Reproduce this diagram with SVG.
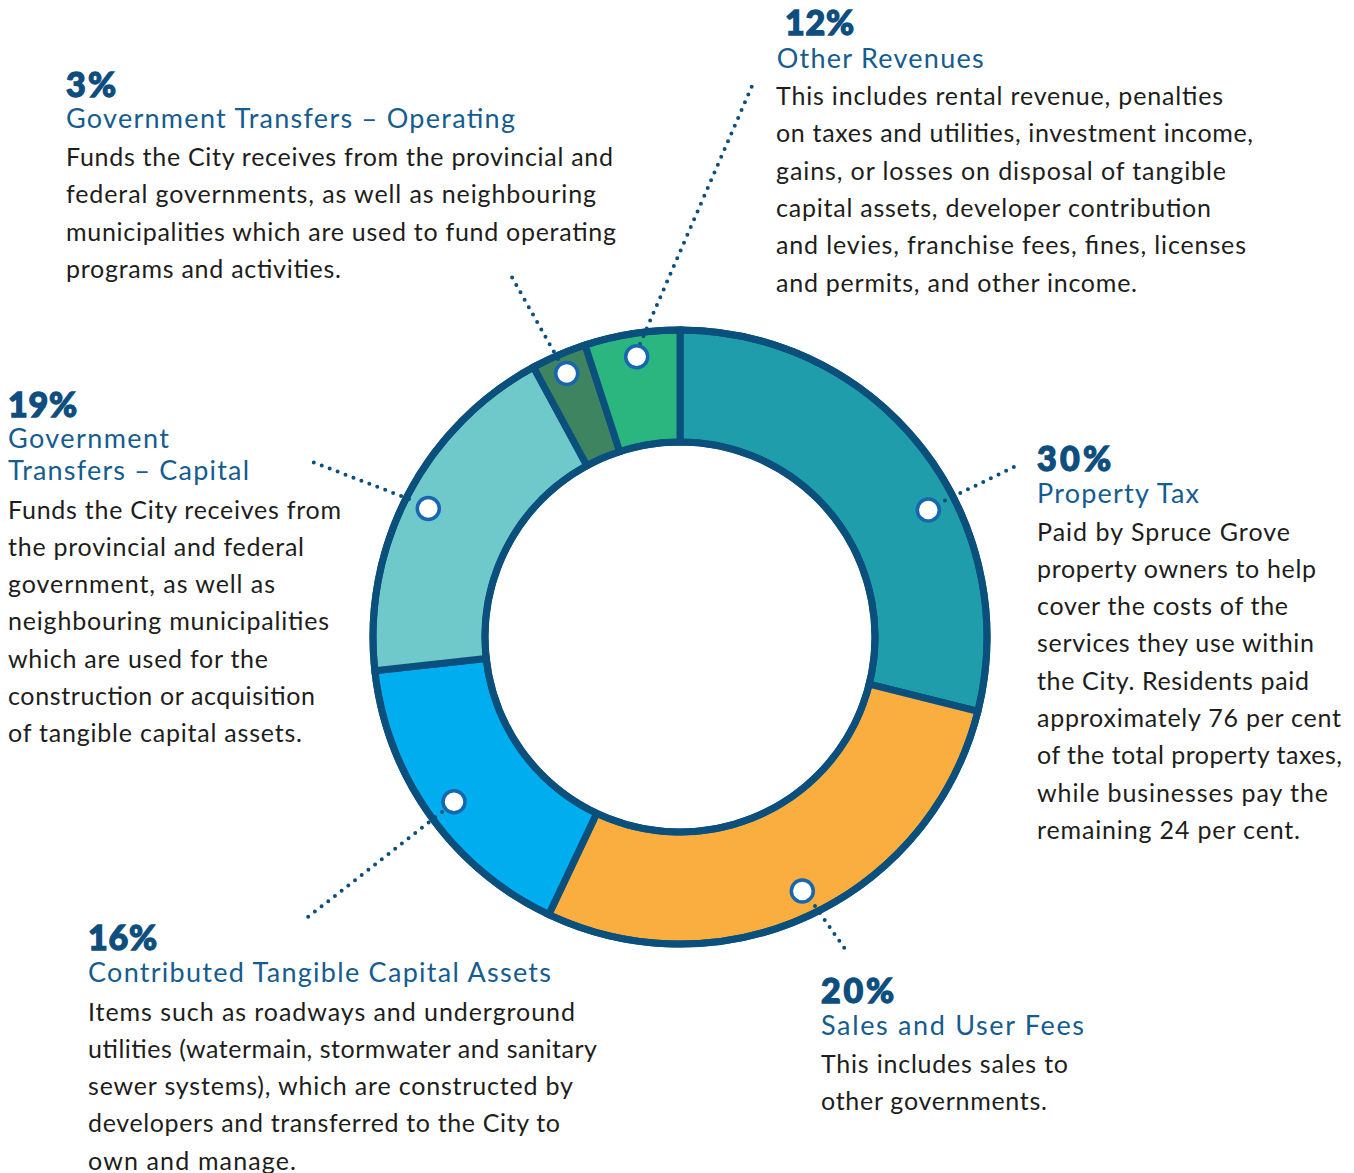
<svg xmlns="http://www.w3.org/2000/svg" width="1354" height="1173" viewBox="0 0 1354 1173">
<style>
.pct{font-family:Lato,"Liberation Sans",sans-serif;font-weight:900;font-size:34px;fill:#0e4e7e;stroke:#0e4e7e;stroke-width:1.3}
.hd{font-family:Lato,"Liberation Sans",sans-serif;font-size:27px;fill:#155c8f}
.bd{font-family:Lato,"Liberation Sans",sans-serif;font-size:25px;fill:#1d1d1b}
.seg{stroke:#0b4f7c;stroke-width:7;stroke-linejoin:miter}
.ring{fill:none;stroke:#0b4f7c;stroke-width:7}
.mk{fill:#fff;stroke:#1766b0;stroke-width:3.5}
.dl{fill:none;stroke:#0b4f7c;stroke-width:4;stroke-linecap:round;stroke-dasharray:0 8.5}
</style>
<rect width="1354" height="1173" fill="#fff"/>
<g id="donut">
<path id="seg-property-tax" class="seg" fill="#1f9dab" d="M680,330 A307,307 0 0 1 977.9,711.3 L869.2,684.2 A195,195 0 0 0 680,442 Z"/>
<path id="seg-sales" class="seg" fill="#fbae40" d="M977.9,711.3 A307,307 0 0 1 548.8,914.6 L596.7,813.3 A195,195 0 0 0 869.2,684.2 Z"/>
<path id="seg-contributed" class="seg" fill="#00adee" d="M548.8,914.6 A307,307 0 0 1 374.8,670.7 L486.2,658.4 A195,195 0 0 0 596.7,813.3 Z"/>
<path id="seg-gov-capital" class="seg" fill="#6fc9cb" d="M374.8,670.7 A307,307 0 0 1 533.5,367.2 L586.9,465.6 A195,195 0 0 0 486.2,658.4 Z"/>
<path id="seg-gov-operating" class="seg" fill="#3f8460" d="M533.5,367.2 A307,307 0 0 1 585.1,345 L619.7,451.5 A195,195 0 0 0 586.9,465.6 Z"/>
<path id="seg-other" class="seg" fill="#2cb67f" d="M585.1,345 A307,307 0 0 1 680,330 L680,442 A195,195 0 0 0 619.7,451.5 Z"/>
<circle class="ring" cx="680" cy="637" r="307"/>
<circle class="ring" cx="680" cy="637" r="195"/>
</g>
<g id="connectors">
<line class="dl" x1="945" y1="500.5" x2="1016" y2="466"/>
<line class="dl" x1="409" y1="499" x2="310" y2="461"/>
<line class="dl" x1="442" y1="812" x2="308" y2="917"/>
<line class="dl" x1="815" y1="906" x2="845" y2="949"/>
<line class="dl" x1="558" y1="359" x2="509" y2="272"/>
<line class="dl" x1="640" y1="344" x2="752" y2="86"/>
</g>
<g id="markers">
<circle class="mk" cx="928.3" cy="510" r="11"/>
<circle class="mk" cx="428.3" cy="508.5" r="11"/>
<circle class="mk" cx="454" cy="801.7" r="11"/>
<circle class="mk" cx="802.3" cy="891" r="11"/>
<circle class="mk" cx="566.7" cy="373.5" r="11"/>
<circle class="mk" cx="636.7" cy="356.7" r="11"/>
</g>
<g id="node-gov-operating">
<text class="pct" x="66" y="96.5" textLength="50">3%</text>
<text class="hd" x="66" y="128.3" textLength="449">Government Transfers – Operating</text>
<text class="bd" x="66" y="166" textLength="547">Funds the City receives from the provincial and</text>
<text class="bd" x="66" y="203.3" textLength="530">federal governments, as well as neighbouring</text>
<text class="bd" x="66" y="240.6" textLength="550">municipalities which are used to fund operating</text>
<text class="bd" x="66" y="278" textLength="275">programs and activities.</text>
</g>
<g id="node-other">
<text class="pct" x="785" y="35" textLength="69">12%</text>
<text class="hd" x="776.7" y="67.7" textLength="207">Other Revenues</text>
<text class="bd" x="776" y="105" textLength="447">This includes rental revenue, penalties</text>
<text class="bd" x="776" y="142.3" textLength="477">on taxes and utilities, investment income,</text>
<text class="bd" x="776" y="179.6" textLength="450">gains, or losses on disposal of tangible</text>
<text class="bd" x="776" y="216.9" textLength="435">capital assets, developer contribution</text>
<text class="bd" x="776" y="254.2" textLength="470">and levies, franchise fees, fines, licenses</text>
<text class="bd" x="776" y="291.5" textLength="361">and permits, and other income.</text>
</g>
<g id="node-gov-capital">
<text class="pct" x="8" y="416.7" textLength="69">19%</text>
<text class="hd" x="8" y="448.3" textLength="161">Government</text>
<text class="hd" x="8" y="480" textLength="241">Transfers – Capital</text>
<text class="bd" x="8" y="518.5" textLength="333">Funds the City receives from</text>
<text class="bd" x="8" y="555.8" textLength="296">the provincial and federal</text>
<text class="bd" x="8" y="593.1" textLength="267">government, as well as</text>
<text class="bd" x="8" y="630.4" textLength="321">neighbouring municipalities</text>
<text class="bd" x="8" y="667.7" textLength="260">which are used for the</text>
<text class="bd" x="8" y="705" textLength="307">construction or acquisition</text>
<text class="bd" x="8" y="742.3" textLength="294">of tangible capital assets.</text>
</g>
<g id="node-property-tax">
<text class="pct" x="1037" y="471" textLength="74">30%</text>
<text class="hd" x="1037" y="503" textLength="162">Property Tax</text>
<text class="bd" x="1037" y="540.5" textLength="253">Paid by Spruce Grove</text>
<text class="bd" x="1037" y="577.8" textLength="279">property owners to help</text>
<text class="bd" x="1037" y="615.1" textLength="251">cover the costs of the</text>
<text class="bd" x="1037" y="652.4" textLength="277">services they use within</text>
<text class="bd" x="1037" y="689.7" textLength="272">the City. Residents paid</text>
<text class="bd" x="1037" y="727" textLength="304">approximately 76 per cent</text>
<text class="bd" x="1037" y="764.3" textLength="305">of the total property taxes,</text>
<text class="bd" x="1037" y="801.6" textLength="291">while businesses pay the</text>
<text class="bd" x="1037" y="838.9" textLength="263">remaining 24 per cent.</text>
</g>
<g id="node-sales">
<text class="pct" x="821" y="1002.7" textLength="73">20%</text>
<text class="hd" x="821" y="1034.5" textLength="263">Sales and User Fees</text>
<text class="bd" x="821" y="1072.5" textLength="247">This includes sales to</text>
<text class="bd" x="821" y="1109.8" textLength="226">other governments.</text>
</g>
<g id="node-contributed">
<text class="pct" x="88" y="950" textLength="69">16%</text>
<text class="hd" x="88" y="981.7" textLength="463">Contributed Tangible Capital Assets</text>
<text class="bd" x="88" y="1020.5" textLength="487">Items such as roadways and underground</text>
<text class="bd" x="88" y="1057.8" textLength="509">utilities (watermain, stormwater and sanitary</text>
<text class="bd" x="88" y="1095.1" textLength="485">sewer systems), which are constructed by</text>
<text class="bd" x="88" y="1132.4" textLength="472">developers and transferred to the City to</text>
<text class="bd" x="88" y="1169.7" textLength="208">own and manage.</text>
</g>
</svg>
